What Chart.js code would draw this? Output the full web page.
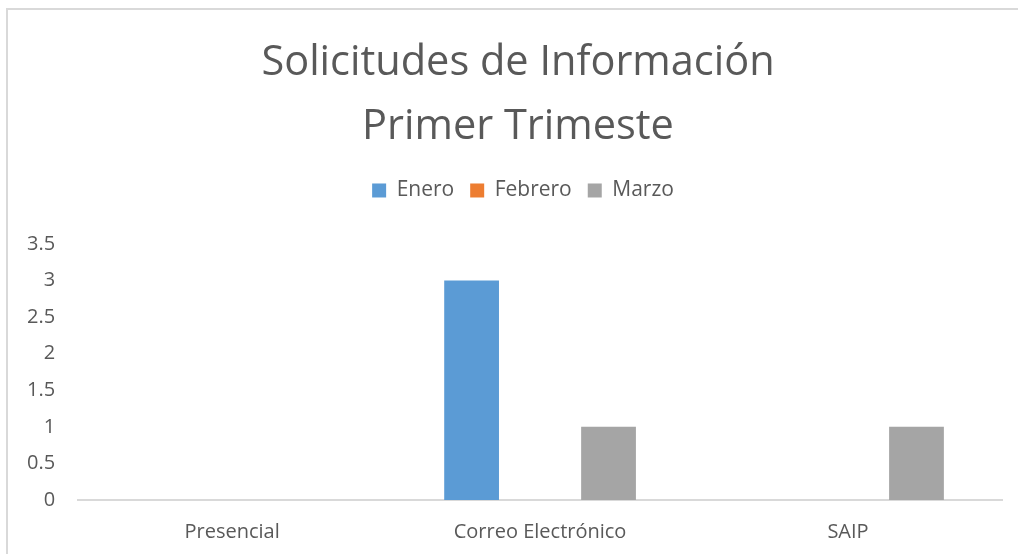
<!DOCTYPE html>
<html>
<head>
<meta charset="utf-8">
<script src="https://cdn.jsdelivr.net/npm/chart.js@4.4.0/dist/chart.umd.min.js"></script>
<style>
  html, body { margin: 0; padding: 0; background: #fff; }
  #wrap { position: absolute; left: 0; top: 0; width: 1018px; height: 554px; }
  #frame { position: absolute; left: 6px; top: 8px; width: 1100px; height: 600px;
           border-top: 2px solid #d9d9d9; border-left: 2px solid #d9d9d9; box-sizing: border-box; }
</style>
</head>
<body>
<div id="frame"></div>
<div id="wrap"><canvas id="c" width="1018" height="554"></canvas></div>
<script>
const titleLines = ["Solicitudes de Información", "Primer Trimeste"];
const categories = ["Presencial", "Correo Electrónico", "SAIP"];
const seriesNames = ["Enero", "Febrero", "Marzo"];
const enero = [0, 3, 0];
const febrero = [0, 0, 0];
const marzo = [0, 1, 1];
const seriesColors = ["#5b9bd5", "#ed7d31", "#a5a5a5"];
const yMin = 0, yMax = 3.5, yStep = 0.5;

const FONT = "'Open Sans', 'Liberation Sans', sans-serif";
const TEXT = "#595959";
const LEGEND_EXTRA = 33;
const TITLE_SHIFT = 15;
const LEGEND_SHIFT = 20;

const layoutTweaks = {
  id: 'layoutTweaks',
  beforeInit(chart) {
    const origFit = chart.legend.fit;
    chart.legend.fit = function () {
      origFit.call(this);
      this.height += LEGEND_EXTRA;
    };
  },
  afterLayout(chart) {
    if (chart.titleBlock) { chart.titleBlock.left += TITLE_SHIFT; chart.titleBlock.right += TITLE_SHIFT; }
    if (chart.legend) { chart.legend.left += LEGEND_SHIFT; chart.legend.right += LEGEND_SHIFT; }
  }
};

new Chart(document.getElementById('c'), {
  type: 'bar',
  data: {
    labels: categories,
    datasets: [enero, febrero, marzo].map((d, i) => ({
      label: seriesNames[i],
      data: d,
      backgroundColor: seriesColors[i],
      borderWidth: 0,
      barPercentage: 0.8,
      categoryPercentage: 0.667
    }))
  },
  plugins: [layoutTweaks],
  options: {
    responsive: false,
    animation: false,
    layout: { padding: { top: 12, left: 4, right: 16, bottom: -10 } },
    plugins: {
      tooltip: { enabled: false },
      title: {
        display: true,
        text: titleLines,
        color: TEXT,
        font: { family: FONT, size: 41.5, weight: 'normal', lineHeight: 1.542 },
        padding: { top: 19, bottom: 5 }
      },
      legend: {
        display: true,
        position: 'top',
        labels: {
          color: TEXT,
          font: { family: FONT, size: 21 },
          boxWidth: 14,
          boxHeight: 14,
          padding: 16
        }
      }
    },
    scales: {
      x: {
        grid: { display: false, drawTicks: false },
        border: { display: true, color: '#d9d9d9', width: 2 },
        ticks: { color: TEXT, font: { family: FONT, size: 20 }, padding: 20 }
      },
      y: {
        min: yMin, max: yMax,
        grid: { display: false, drawTicks: false },
        border: { display: false },
        ticks: { stepSize: yStep, color: TEXT, font: { family: FONT, size: 20 }, padding: 23,
                 callback: (v) => String(v) }
      }
    }
  }
});
</script>
</body>
</html>
